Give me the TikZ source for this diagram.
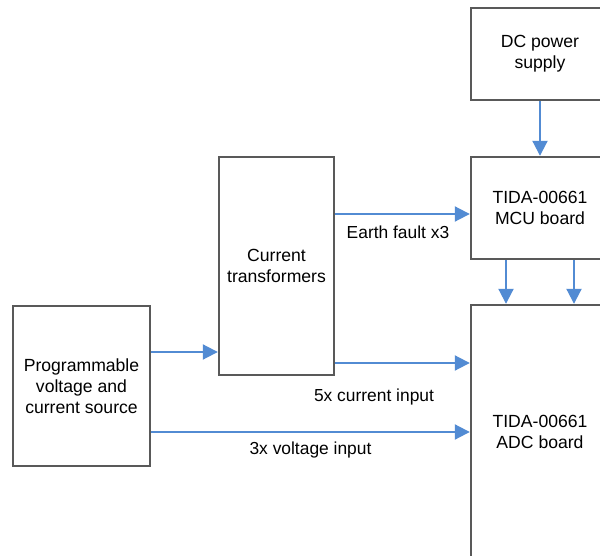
\documentclass[tikz,border=0pt]{standalone}
\usepackage{fontspec}
\setmainfont{Liberation Sans}
\usetikzlibrary{arrows.meta}
\definecolor{boxgray}{RGB}{89,89,89}
\definecolor{flowblue}{RGB}{82,139,211}

\begin{document}
\begin{tikzpicture}[x=1pt,y=-1pt,
  block/.style={draw=boxgray,line width=2.4pt,fill=white,inner sep=0pt,
    align=center,font=\fontsize{17.6}{21}\selectfont},
  flow/.style={draw=flowblue,line width=2pt,
    -{Triangle[length=15pt,width=15pt]}},
  lbl/.style={inner sep=0pt,anchor=base,font=\fontsize{17.4}{21}\selectfont}]
\useasboundingbox (0,0) rectangle (600,556);

\node[block,minimum width=138pt,minimum height=92pt] (dcps) at (540,54) {DC power\\supply}; %supply
\node[block,minimum width=138pt,minimum height=102pt] (mcu) at (540,208) {TIDA-00661\\MCU board}; %boards
\node[block,minimum width=138pt,minimum height=254pt] (adc) at (540,432) {TIDA-00661\\ADC board};
\node[block,minimum width=115pt,minimum height=218pt] (ct) at (276.5,266) {Current\\transformers};
\node[block,minimum width=137pt,minimum height=160pt] (src) at (81.5,386) {Programmable\\voltage and\\current source};

\draw[flow] (dcps.south) -- (mcu.north);
\draw[flow] ([xshift=-34pt]mcu.south) -- ([xshift=-34pt]adc.north);
\draw[flow] ([xshift=34pt]mcu.south) -- ([xshift=34pt]adc.north);
\draw[flow] ([yshift=34pt]src.east) -- ([yshift=34pt]src.east -| ct.west);
\draw[flow] ([yshift=-6pt]mcu.west -| ct.east) -- ([yshift=-6pt]mcu.west);
\draw[flow] ([yshift=-97pt]ct.east) -- ([yshift=-97pt]ct.east -| adc.west);
\draw[flow] (adc.west -| src.east) -- (adc.west);

\node[lbl] (efl) at (398,239) {Earth fault x3}; %line labels
\node[lbl] (cil) at (374,401) {5x current input};
\node[lbl] (vil) at (310.5,454) {3x voltage input};
\end{tikzpicture}
\end{document}
